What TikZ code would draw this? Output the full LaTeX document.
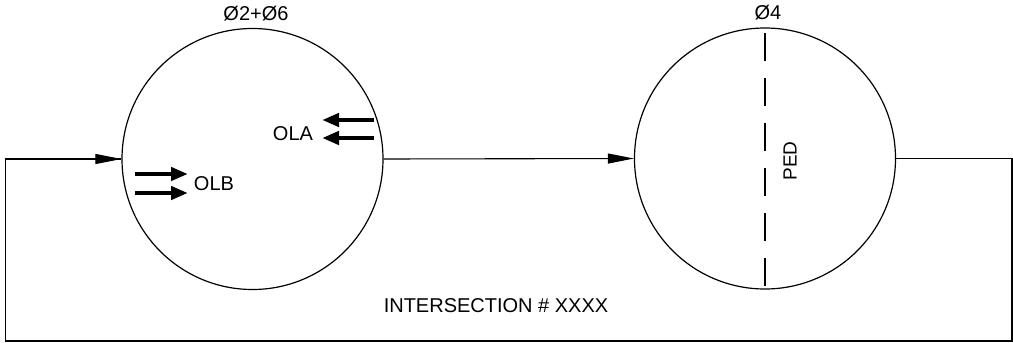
\documentclass[tikz,border=0pt]{standalone}
\usepackage{fontspec}
\setmainfont{Liberation Sans}
\usetikzlibrary{arrows.meta,positioning}

\begin{document}
\begin{tikzpicture}[
  x=1pt, y=-1pt,
  font=\fontsize{20}{24}\selectfont,
  phase/.style={draw, circle, line width=1.2pt, minimum size=261pt, inner sep=0pt},
  flow/.style={line width=1.1pt, -{Triangle[length=26pt, width=10pt]}},
  link/.style={line width=1.1pt},
  mov/.style={line width=4.5pt, -{Triangle[length=17pt, width=13pt]}},
  ped/.style={line width=1.4pt, dash pattern=on 28pt off 17pt, dash phase=39pt}
]
\useasboundingbox (0,0) rectangle (1013,343);

\node[phase] (p26) at (252.5,159) {};
\node[phase] (p4) at (765,158.5) {};

\node[anchor=base] (l26) at (256,20) {Ø2+Ø6};
\node[anchor=base] (l4) at (768,19) {Ø4};

\node[anchor=base] (ola) at (293,140) {OLA};
\node[anchor=base] (olb) at (214,190) {OLB};
\node[rotate=90, font=\fontsize{19}{23}\selectfont] (pedl) at (790,161) {PED};
\node[anchor=base] (inter) at (496,312) {INTERSECTION \# XXXX};

\draw[mov] (374,120) -- (322,120);
\draw[mov] (374,138) -- (322,138);
\draw[mov] (135,174) -- (188,174);
\draw[mov] (135,193) -- (188,193);

\draw[ped] (p4.north) -- (p4.south);

\coordinate (ne) at (1012,158.5);
\coordinate (se) at (1012,341);
\coordinate (sw) at (5.5,341);

\draw[flow] (p26.east) -- (p4.west);
\draw[link] (p4.east) -- (ne) -- (se) -- (sw) |- (p26.west);
\draw[flow] (sw |- p26.west) -- (p26.west);
\end{tikzpicture}
\end{document}
